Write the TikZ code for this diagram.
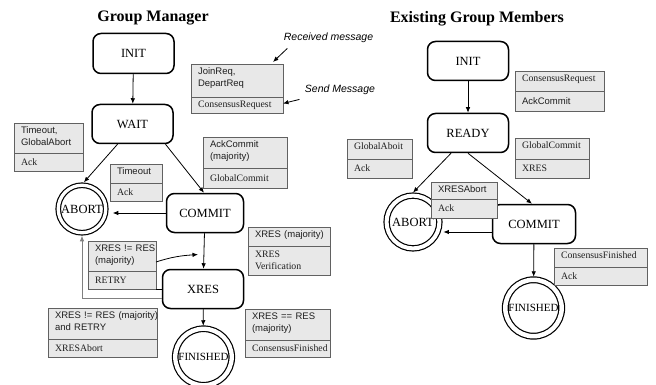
\documentclass[tikz,border=0pt]{standalone}
\usepackage{fontspec}
\setmainfont{Liberation Serif}
\newfontfamily\arialf{Liberation Sans}
\usetikzlibrary{arrows.meta,calc}

\newcommand\boxsans{\arialf\fontsize{9.5}{12}\selectfont}
\newcommand\boxserif{\rmfamily\fontsize{9.8}{12.5}\selectfont}

\tikzset{
  statebox/.style={draw, rounded corners=8pt, line width=1.5pt, minimum width=81pt,
    minimum height=39pt, inner sep=0pt, font=\fontsize{12.5}{14}\selectfont},
  final/.style={circle, draw, line width=1.2pt, double, double distance=#1,
    inner sep=0pt, outer sep=3pt},
  msgframe/.style={draw=black!62, fill=black!9, line width=0.9pt, anchor=north west,
    inner sep=0pt, outer sep=0pt},
  msgtext/.style={inner sep=0pt, align=left, text width=160pt, text=black!88},
  arr/.style={-{Latex[length=5.5pt,width=4.5pt]}, line width=0.8pt},
  plain/.style={line width=0.8pt},
  note/.style={font=\arialf\itshape\fontsize{10.5}{12}\selectfont},
  heading/.style={font=\bfseries\fontsize{16}{18}\selectfont, anchor=base}
}

% two-part message box: name, x1, y1, x2, y of divider, y2, upper text, lower text
\newcommand\msgbox[8]{%
  \pgfmathsetmacro\mbw{#4-#2}%
  \pgfmathsetmacro\mbht{#5-#3}%
  \pgfmathsetmacro\mbhb{#6-#5}%
  \node[msgframe, minimum width=\mbw pt, minimum height=\mbht pt] (#1t) at (#2,#3) {};
  \node[msgframe, minimum width=\mbw pt, minimum height=\mbhb pt] (#1b) at (#2,#5) {};
  \node[msgtext, anchor=north west] at ([xshift=6.8pt,yshift=-3.6pt]#1t.north west) {#7};
  \node[msgtext, anchor=west] at ([xshift=6.8pt]#1b.west) {#8};
}

\begin{document}
\begin{tikzpicture}[x=1pt,y=-1pt]
\useasboundingbox (0,0) rectangle (656,385);
\fill[white] (0,0) rectangle (656,385);

% headings
\node[heading] (hgm) at (153,22) {Group Manager};
\node[heading] (hegm) at (477,23) {Existing Group Members};

% group manager states
\node[statebox, minimum height=40pt] (init) at (133.5,53.5) {INIT};
\node[statebox] (wait) at (132.5,124) {WAIT};
\node[statebox, minimum width=77pt] (commit) at (205,213) {COMMIT};
\node[statebox] (xres) at (203,289) {XRES};
\node[final=3.3pt, minimum size=47.5pt, font=\fontsize{12.5}{14}\selectfont] (abort) at (82,209) {ABORT};
\node[final=4.3pt, minimum size=56.5pt, font=\fontsize{11}{13}\selectfont] (fin) at (203.5,357) {FINISHED};

% member states
\node[statebox] (rinit) at (468,61) {INIT};
\node[statebox] (rready) at (468,133) {READY};
\node[statebox, minimum width=83pt] (rcommit) at (534,224) {COMMIT};
\node[final=4pt, minimum size=52.8pt, font=\fontsize{12.5}{14}\selectfont] (rabort) at (413,222) {ABORT};
\node[final=4.5pt, minimum size=56.4pt, font=\fontsize{11}{13}\selectfont] (rfin) at (533.5,308) {FINISHED};

% message boxes of the group manager
\msgbox{mA}{191}{64}{283}{97}{113}{\boxsans JoinReq,\\DepartReq}{\boxserif ConsensusRequest}
\msgbox{mB}{14}{123}{83}{153}{171}{\boxsans Timeout,\\GlobalAbort}{\boxserif Ack}
\msgbox{mC}{110}{164}{162}{183}{201}{\boxsans Timeout}{\boxserif Ack}
\msgbox{mD}{203}{137}{287}{168}{188}{\boxsans AckCommit\\(majority)}{\boxserif GlobalCommit}
\msgbox{mE}{88}{241}{156}{271}{289}{\boxsans XRES != RES\\(majority)}{\boxserif RETRY}
\msgbox{mF}{248}{227}{330}{246}{275}{\boxsans XRES (majority)}{\boxserif XRES\\Verification}
\msgbox{mG}{48}{308}{157}{339}{357}{\boxsans XRES != RES (majority)\\and RETRY}{\boxserif XRESAbort}
\msgbox{mH}{245}{309}{330}{340}{357}{\boxsans XRES == RES\\(majority)}{\boxserif ConsensusFinished}

% message boxes of the members
\msgbox{mI}{515}{71}{604}{91}{111}{\boxserif ConsensusRequest}{\boxsans AckCommit}
\msgbox{mJ}{347}{139}{412}{159}{178}{\boxserif GlobalAboit}{\boxserif Ack}
\msgbox{mK}{515}{138}{589}{159}{178}{\boxserif GlobalCommit}{\boxserif XRES}
\msgbox{mM}{554}{248}{647}{267}{285}{\boxserif ConsensusFinished}{\boxserif Ack}

% legend
\node[note] (recv) at (328.5,38) {Received message};
\node[note] (send) at (340,90) {Send Message};
\draw[arr] ([xshift=7pt,yshift=-2pt]recv.south west) -- ([xshift=-10pt,yshift=2pt]mAt.north east);
\draw[arr] ([xshift=-2pt,yshift=-1pt]send.south west) -- ([yshift=1.5pt]mAb.east);

% group manager transitions
\draw[arr] (init) -- (wait);
\draw[arr] ([xshift=-15pt]wait.south) -- (abort.86);
\draw[arr] ([xshift=33pt]wait.south) -- ([xshift=-1pt]commit.north);
\draw[arr, shorten >=4pt] (commit.west) -- (commit.west -| abort.east);
\draw[arr] (commit) -- (xres);
\draw[arr] (xres) -- (fin);
\draw[arr, draw=black!50] ([yshift=-9.5pt]xres.west) -| (abort.south);
\draw[plain] (mEb.south east) -- (xres.west);
\coordinate (retryend) at (198,254.5);
\draw[arr] ([yshift=-6pt]mEt.east) to[out=18, in=184] (retryend);

% member transitions
\draw[arr] (rinit) -- (rready);
\draw[arr] ([xshift=-17pt]rready.south) -- (rabort.90);
\draw[arr] (rready.south) -- ([xshift=-2pt]rcommit.north);
\coordinate (rcw) at ([yshift=-8pt]rcommit.west);
\draw[arr, shorten >=1pt] (rcw) -- (rcw -| rabort.east);
\draw[arr] (rcommit) -- (rfin);

% this box lies over the corner of the member COMMIT state
\msgbox{mL}{431}{182}{497}{199}{218}{\boxsans XRESAbort}{\boxserif Ack}
\end{tikzpicture}
\end{document}
